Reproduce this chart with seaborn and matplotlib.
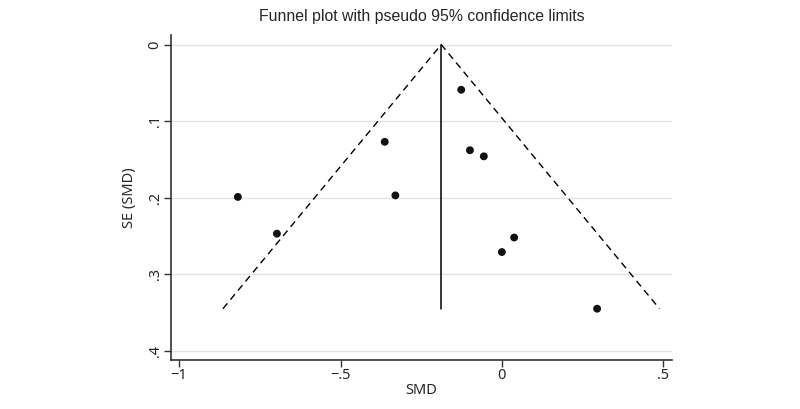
import numpy as np
import pandas as pd
import matplotlib
matplotlib.use('Agg')
import matplotlib.pyplot as plt
import seaborn as sns

# study estimates
smd = [-0.818, -0.697, -0.363, -0.330, -0.126, -0.099, -0.056, 0.000, 0.038, 0.295]
se = [0.199, 0.247, 0.127, 0.197, 0.059, 0.138, 0.146, 0.271, 0.252, 0.345]

pooled_smd = -0.188
max_se = 0.345
z = 1.96

x_ticks = [-1, -0.5, 0, 0.5]
x_ticklabels = ['\u22121', '\u2212.5', '0', '.5']
y_ticks = [0, 0.1, 0.2, 0.3, 0.4]
y_ticklabels = ['0', '.1', '.2', '.3', '.4']

df = pd.DataFrame({'SMD': smd, 'SE': se})

# pseudo 95% limits
funnel = pd.DataFrame({
    'SMD': [pooled_smd - z * max_se, pooled_smd, pooled_smd + z * max_se],
    'SE': [max_se, 0, max_se],
})
center = pd.DataFrame({'SMD': [pooled_smd, pooled_smd], 'SE': [0, max_se]})

sns.set_style('white')
plt.rcParams['font.family'] = ['Noto Sans', 'DejaVu Sans']

fig = plt.figure(figsize=(8, 4.09), dpi=100)
ax = fig.add_axes([0.2138, 0.1198, 0.6258, 0.7946])

for t in y_ticks:
    ax.axhline(t, color='#e3e3e3', lw=1.0, zorder=0)

ax.plot(funnel['SMD'], funnel['SE'], color='black', lw=1.0, ls=(0, (5, 3.5)))
sns.lineplot(data=center, x='SMD', y='SE', color='black', lw=1.1, sort=False,
             estimator=None, ax=ax)
sns.scatterplot(data=df, x='SMD', y='SE', color='#111111', s=32, edgecolor='none',
                ax=ax, zorder=3)

ax.set_xlim(-1.025, 0.526)
ax.set_ylim(0.412, -0.0125)
ax.set_xticks(x_ticks)
ax.set_xticklabels(x_ticklabels, fontsize=10.5)
ax.set_yticks(y_ticks)
ax.set_yticklabels(y_ticklabels, fontsize=10.5, rotation=90, va='center')
ax.tick_params(axis='both', direction='out', length=5, width=1, color='#333333',
               bottom=True, left=True, pad=1)
ax.set_xlabel('SMD', fontsize=10.5, labelpad=0)
ax.set_ylabel('SE (SMD)', fontsize=10.5, labelpad=8)
ax.set_title('Funnel plot with pseudo 95% confidence limits', fontsize=11.4,
             pad=10, family=['Liberation Sans', 'DejaVu Sans'])

for s in ['top', 'right']:
    ax.spines[s].set_visible(False)
for s in ['left', 'bottom']:
    ax.spines[s].set_color('#333333')
    ax.spines[s].set_linewidth(1.2)

fig.savefig('out.png', dpi=100)
